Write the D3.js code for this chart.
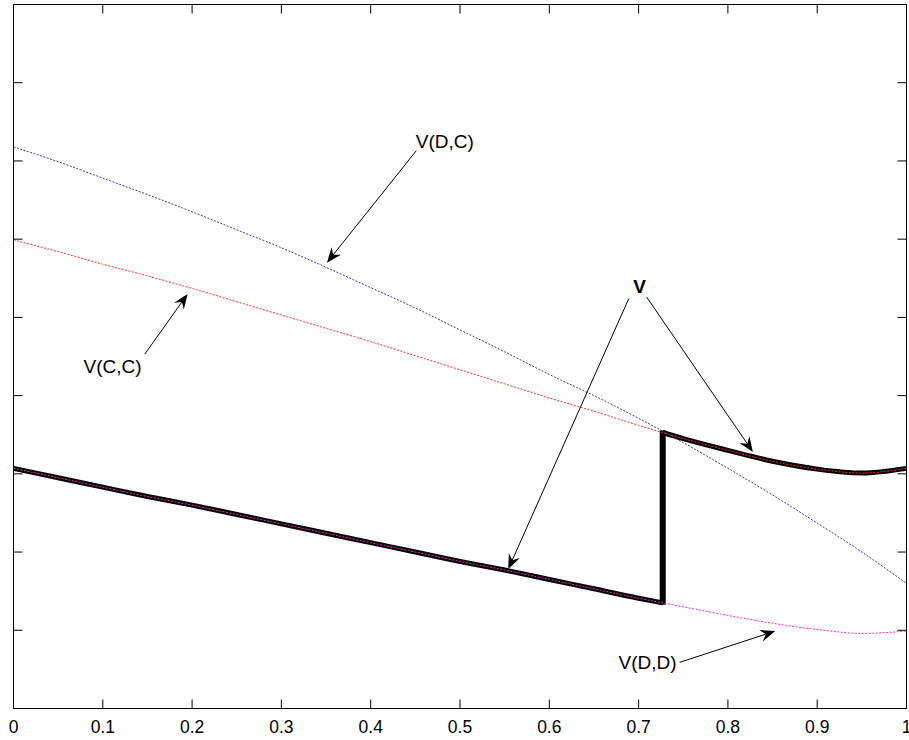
<!DOCTYPE html>
<html>
<head>
<meta charset="utf-8">
<script src="https://cdn.jsdelivr.net/npm/d3@7"></script>
<style>
  body { margin: 0; background: #fff; }
  text { font-family: "Liberation Sans", Arial, sans-serif; }
</style>
</head>
<body>
<div id="chart"></div>
<script>
// data
const xs = [0, 0.05, 0.1, 0.15, 0.2, 0.25, 0.3, 0.35, 0.4, 0.45, 0.5,
            0.55, 0.6, 0.65, 0.7, 0.75, 0.8, 0.85, 0.9, 0.95, 1];
const vDC = [7.18, 6.99, 6.78, 6.57, 6.35, 6.12, 5.89, 5.64, 5.38, 5.12, 4.84,
             4.56, 4.27, 4.00, 3.71, 3.40, 3.07, 2.73, 2.37, 2.00, 1.60];
const vCC = [5.99, 5.84, 5.68, 5.53, 5.37, 5.20, 5.03, 4.86, 4.69, 4.51, 4.33,
             4.15, 3.97, 3.80, 3.62, 3.45, 3.30, 3.16, 3.06, 3.01, 3.07];
const vDD = [3.07, 2.95, 2.83, 2.71, 2.60, 2.48, 2.36, 2.24, 2.12, 2.00, 1.88,
             1.77, 1.65, 1.53, 1.41, 1.30, 1.19, 1.09, 1.01, 0.96, 0.99];
const switchX = 0.727;   // where V jumps from V(D,D) to V(C,C)

const xTicks = [0, 0.1, 0.2, 0.3, 0.4, 0.5, 0.6, 0.7, 0.8, 0.9, 1];
const yTicks = [1, 2, 3, 4, 5, 6, 7, 8];

// annotations: label position, arrow start(s) and tip(s), in data units
const notes = [
  { text: "V(D,C)", at: [0.483, 7.17], bold: false, arrows: [[[0.451, 7.13], [0.351, 5.70]]] },
  { text: "V(C,C)", at: [0.111, 4.29], bold: false, arrows: [[[0.147, 4.53], [0.195, 5.30]]] },
  { text: "V", at: [0.701, 5.31], bold: true, arrows: [[[0.689, 5.24], [0.554, 1.78]], [[0.709, 5.26], [0.828, 3.28]]] },
  { text: "V(D,D)", at: [0.710, 0.505], bold: false, arrows: [[[0.746, 0.59], [0.853, 0.99]]] }
];

const W = 909, H = 740;
const x = d3.scaleLinear().domain([0, 1]).range([13.5, 906.5]);
const y = d3.scaleLinear().domain([0, 9]).range([708.5, 4.5]);

const svg = d3.select('#chart').append('svg')
    .attr('width', W)
    .attr('height', H);

const line = d3.line().x(d => x(d[0])).y(d => y(d[1])).curve(d3.curveMonotoneX);

// build V: V(D,D) below the switch, V(C,C) above it
const interp = (arr, v) => {
    const i = d3.bisectRight(xs, v) - 1;
    const t = (v - xs[i]) / (xs[i + 1] - xs[i]);
    return arr[i] + t * (arr[i + 1] - arr[i]);
};
const vLow = xs.map((v, i) => [v, vDD[i]]).filter(d => d[0] < switchX);
vLow.push([switchX, interp(vDD, switchX)]);
const vHigh = [[switchX, interp(vCC, switchX)]].concat(xs.map((v, i) => [v, vCC[i]]).filter(d => d[0] > switchX));

svg.append('path')
    .attr('d', line(vLow))
    .attr('fill', 'none')
    .attr('stroke', '#000')
    .attr('stroke-width', 5);
svg.append('path')
    .attr('d', line(vHigh))
    .attr('fill', 'none')
    .attr('stroke', '#000')
    .attr('stroke-width', 5);
svg.append('line')
    .attr('x1', x(switchX)).attr('x2', x(switchX))
    .attr('y1', y(interp(vDD, switchX)) + 2).attr('y2', y(interp(vCC, switchX)) - 2)
    .attr('stroke', '#000')
    .attr('stroke-width', 6);

// thin dashed curves on top
const series = [
    { vals: vDC, color: '#3a3ab8' },
    { vals: vCC, color: '#ff2a2a' },
    { vals: vDD, color: '#ff2ab8' }
];
series.forEach(s => {
    svg.append('path')
        .attr('d', line(xs.map((v, i) => [v, s.vals[i]])))
        .attr('fill', 'none')
        .attr('stroke', s.color)
        .attr('stroke-width', 1)
        .attr('stroke-dasharray', '2,1.5');
});

// frame and inward ticks
svg.append('rect')
    .attr('x', x(0)).attr('y', y(9))
    .attr('width', x(1) - x(0)).attr('height', y(0) - y(9))
    .attr('fill', 'none')
    .attr('stroke', '#000')
    .attr('stroke-width', 1);

const tl = 9;
xTicks.forEach(t => {
    svg.append('line').attr('x1', x(t)).attr('x2', x(t)).attr('y1', y(0)).attr('y2', y(0) - tl).attr('stroke', '#000');
    svg.append('line').attr('x1', x(t)).attr('x2', x(t)).attr('y1', y(9)).attr('y2', y(9) + tl).attr('stroke', '#000');
    svg.append('text')
        .attr('x', x(t))
        .attr('y', y(0) + 24)
        .attr('text-anchor', 'middle')
        .attr('font-size', 17.5)
        .text(t);
});
yTicks.forEach(t => {
    svg.append('line').attr('x1', x(0)).attr('x2', x(0) + tl).attr('y1', y(t)).attr('y2', y(t)).attr('stroke', '#000');
    svg.append('line').attr('x1', x(1)).attr('x2', x(1) - tl).attr('y1', y(t)).attr('y2', y(t)).attr('stroke', '#000');
});

// annotations with filled arrow heads
function arrow(p0, p1) {
    const x0 = x(p0[0]), y0 = y(p0[1]), x1 = x(p1[0]), y1 = y(p1[1]);
    const a = Math.atan2(y1 - y0, x1 - x0);
    const len = 15, hw = 6, notch = 10;
    const ux = Math.cos(a), uy = Math.sin(a);
    const bx = x1 - ux * len, by = y1 - uy * len;
    svg.append('line')
        .attr('x1', x0).attr('y1', y0)
        .attr('x2', x1 - ux * notch).attr('y2', y1 - uy * notch)
        .attr('stroke', '#000').attr('stroke-width', 1);
    const pts = [
        [x1, y1],
        [bx - uy * hw, by + ux * hw],
        [x1 - ux * notch, y1 - uy * notch],
        [bx + uy * hw, by - ux * hw]
    ];
    svg.append('path')
        .attr('d', 'M' + pts.map(p => p.join(',')).join('L') + 'Z')
        .attr('fill', '#000');
}

notes.forEach(n => {
    svg.append('text')
        .attr('x', x(n.at[0]))
        .attr('y', y(n.at[1]))
        .attr('text-anchor', 'middle')
        .attr('font-size', 19)
        .attr('font-weight', n.bold ? 'bold' : 'normal')
        .text(n.text);
    n.arrows.forEach(a => arrow(a[0], a[1]));
});
</script>
</body>
</html>
